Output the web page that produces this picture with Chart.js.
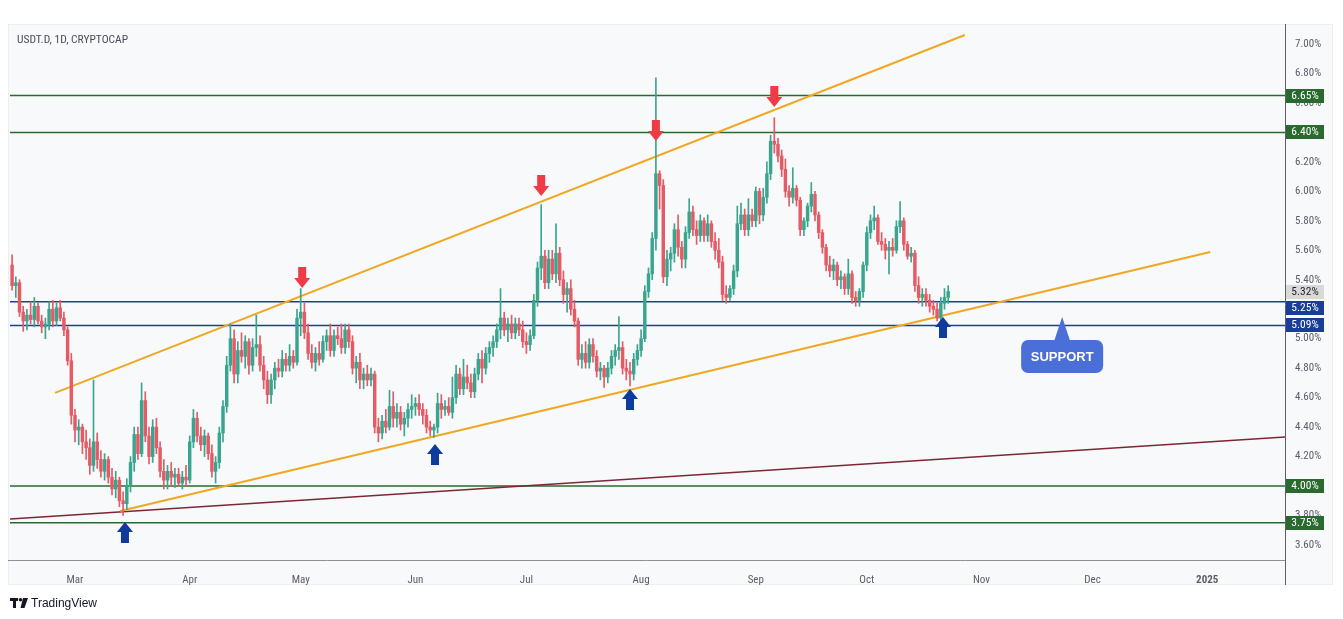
<!DOCTYPE html>
<html><head><meta charset="utf-8">
<script src="https://cdn.jsdelivr.net/npm/chart.js@4.4.1/dist/chart.umd.min.js"></script>
<style>html,body{margin:0;padding:0;background:#fff;}canvas{display:block}</style>
</head><body>
<canvas id="c" width="1343" height="619"></canvas>
<script>
// ---- DATA (daily candles, day 0 = 1 Mar 2024) ----
const firstDay = -17;
const opens = [
5.50,5.36,5.38,5.18,5.12,5.16,5.13,5.22,5.12,5.08,
5.10,5.20,5.12,5.21,5.14,5.06,4.85,4.48,4.38,4.40,
4.30,4.26,4.14,4.30,4.18,4.10,4.18,4.06,3.98,4.04,
3.90,3.88,4.00,4.16,4.35,4.22,4.58,4.34,4.20,4.40,
4.26,4.10,4.04,4.10,4.06,4.08,4.02,4.06,4.04,4.30,
4.46,4.34,4.28,4.34,4.22,4.10,4.16,4.36,4.54,4.82,
5.00,4.76,4.92,4.88,4.98,4.82,4.94,4.96,4.82,4.72,
4.62,4.72,4.80,4.78,4.86,4.82,4.88,4.84,5.14,5.18,
5.04,4.90,4.84,4.90,4.86,4.98,5.02,4.92,5.02,5.00,
4.94,5.06,4.98,4.80,4.84,4.72,4.76,4.72,4.76,4.40,
4.36,4.44,4.40,4.54,4.46,4.50,4.42,4.46,4.52,4.54,
4.56,4.52,4.48,4.40,4.38,4.40,4.56,4.52,4.54,4.50,
4.60,4.76,4.66,4.74,4.70,4.64,4.76,4.86,4.80,4.90,
4.94,4.98,5.06,5.14,5.06,5.10,5.04,5.10,5.06,4.98,
4.96,5.02,5.26,5.48,5.56,5.38,5.54,5.44,5.58,5.40,
5.30,5.34,5.20,5.12,4.86,4.90,4.84,4.96,4.88,4.78,
4.80,4.74,4.80,4.88,4.92,4.94,4.80,4.78,4.76,4.86,
4.92,5.00,5.32,5.44,5.68,6.12,6.04,5.42,5.54,5.58,
5.74,5.62,5.54,5.72,5.86,5.74,5.70,5.80,5.70,5.78,
5.66,5.60,5.52,5.30,5.28,5.34,5.46,5.78,5.84,5.74,
5.84,5.80,6.00,5.84,5.96,6.12,6.34,6.32,6.24,6.15,
6.00,5.96,6.02,5.94,5.74,5.80,5.90,5.98,5.84,5.72,
5.62,5.50,5.46,5.50,5.40,5.42,5.34,5.44,5.28,5.26,
5.32,5.50,5.72,5.80,5.82,5.66,5.64,5.60,5.62,5.60,
5.76,5.80,5.64,5.56,5.58,5.36,5.28,5.30,5.26,5.22,
5.20,5.14,5.24,5.28];
const highs = [
5.57,5.42,5.40,5.22,5.20,5.25,5.28,5.24,5.16,5.14,
5.25,5.26,5.24,5.26,5.18,5.08,4.90,4.52,4.45,4.42,
4.38,4.32,4.72,4.36,4.24,4.22,4.20,4.12,4.10,4.06,
3.96,4.05,4.20,4.40,4.40,4.70,4.64,4.40,4.45,4.46,
4.30,4.18,4.14,4.16,4.12,4.12,4.10,4.14,4.34,4.52,
4.50,4.40,4.38,4.36,4.28,4.20,4.40,4.58,4.88,5.10,
5.06,4.98,5.04,5.02,5.00,5.00,5.16,5.02,4.88,4.78,
4.76,4.84,4.86,4.92,4.90,4.96,4.92,5.20,5.34,5.24,
5.10,4.96,4.94,4.98,5.02,5.06,5.10,5.06,5.08,5.10,
5.10,5.10,5.02,4.88,4.90,4.80,4.82,4.80,4.78,4.46,
4.48,4.52,4.65,4.64,4.56,4.54,4.50,4.56,4.62,4.60,
4.62,4.56,4.52,4.44,4.42,4.63,4.62,4.58,4.60,4.74,
4.82,4.80,4.86,4.82,4.76,4.80,4.90,4.92,4.94,4.98,
5.02,5.10,5.34,5.18,5.14,5.16,5.14,5.14,5.12,5.04,
5.06,5.30,5.52,5.91,5.60,5.60,5.60,5.78,5.62,5.46,
5.38,5.40,5.26,5.14,4.96,4.98,5.00,5.00,4.92,4.84,
4.82,4.84,4.92,4.96,5.15,4.98,4.86,4.84,4.90,4.96,
5.06,5.36,5.48,5.72,6.77,6.14,6.08,5.60,5.62,5.78,
5.84,5.66,5.76,5.95,5.90,5.80,5.84,5.82,5.84,5.80,
5.72,5.68,5.56,5.36,5.36,5.50,5.90,5.92,5.88,5.95,
5.88,6.03,6.02,6.02,6.20,6.38,6.50,6.36,6.28,6.22,
6.04,6.16,6.04,5.96,5.82,5.92,6.06,6.00,5.86,5.74,
5.64,5.56,5.54,5.52,5.46,5.44,5.54,5.46,5.32,5.34,
5.52,5.76,5.84,5.90,5.84,5.72,5.68,5.66,5.68,5.80,
5.93,5.82,5.66,5.62,5.60,5.42,5.34,5.34,5.30,5.26,
5.24,5.28,5.34,5.36];
const lows = [
5.33,5.28,5.15,5.05,5.06,5.10,5.08,5.10,5.04,5.00,
5.06,5.08,5.09,5.12,5.02,4.82,4.42,4.30,4.28,4.22,
4.18,4.08,4.10,4.12,4.06,4.04,4.02,3.94,3.92,3.86,
3.80,3.84,3.96,4.10,4.18,4.20,4.30,4.15,4.16,4.22,
4.06,3.98,3.98,4.00,3.99,4.00,3.98,4.00,4.02,4.26,
4.30,4.24,4.20,4.18,4.06,4.02,4.12,4.30,4.50,4.78,
4.70,4.70,4.84,4.80,4.76,4.78,4.88,4.78,4.66,4.56,
4.56,4.66,4.74,4.74,4.78,4.78,4.80,4.82,5.02,5.00,
4.86,4.80,4.78,4.82,4.84,4.92,4.88,4.88,4.96,4.90,
4.90,4.94,4.76,4.70,4.66,4.66,4.68,4.68,4.36,4.30,
4.32,4.36,4.38,4.40,4.40,4.38,4.34,4.40,4.46,4.48,
4.48,4.42,4.36,4.34,4.33,4.36,4.46,4.48,4.48,4.46,
4.56,4.62,4.62,4.66,4.60,4.60,4.72,4.70,4.76,4.84,
4.88,4.94,5.00,5.02,4.98,5.00,5.00,5.02,4.94,4.90,
4.92,5.00,5.22,5.40,5.34,5.34,5.40,5.38,5.36,5.24,
5.18,5.16,5.08,4.82,4.80,4.80,4.80,4.84,4.74,4.72,
4.67,4.70,4.76,4.82,4.86,4.76,4.72,4.68,4.72,4.82,
4.88,4.98,5.28,5.40,5.60,5.88,5.38,5.36,5.46,5.52,
5.56,5.48,5.48,5.68,5.70,5.64,5.66,5.66,5.66,5.62,
5.54,5.48,5.26,5.24,5.26,5.30,5.42,5.74,5.70,5.70,
5.76,5.76,5.78,5.80,5.92,6.08,6.26,6.20,6.10,5.96,
5.90,5.92,5.90,5.70,5.70,5.76,5.86,5.80,5.68,5.58,
5.46,5.42,5.40,5.36,5.34,5.30,5.30,5.24,5.22,5.22,
5.28,5.46,5.68,5.74,5.64,5.60,5.54,5.44,5.56,5.58,
5.72,5.60,5.54,5.52,5.32,5.24,5.22,5.22,5.18,5.16,
5.12,5.09,5.20,5.24];
const closes = [
5.36,5.38,5.18,5.12,5.16,5.13,5.22,5.12,5.08,5.10,
5.20,5.12,5.21,5.14,5.06,4.85,4.48,4.38,4.40,4.30,
4.26,4.14,4.30,4.18,4.10,4.18,4.06,3.98,4.04,3.90,
3.88,4.00,4.16,4.35,4.22,4.58,4.34,4.20,4.40,4.26,
4.10,4.04,4.10,4.06,4.08,4.02,4.06,4.04,4.30,4.46,
4.34,4.28,4.34,4.22,4.10,4.16,4.36,4.54,4.82,5.00,
4.76,4.92,4.88,4.98,4.82,4.94,4.96,4.82,4.72,4.62,
4.72,4.80,4.78,4.86,4.82,4.88,4.84,5.14,5.18,5.04,
4.90,4.84,4.90,4.86,4.98,5.02,4.92,5.02,5.00,4.94,
5.06,4.98,4.80,4.84,4.72,4.76,4.72,4.76,4.40,4.36,
4.44,4.40,4.54,4.46,4.50,4.42,4.46,4.52,4.54,4.56,
4.52,4.48,4.40,4.38,4.40,4.56,4.52,4.54,4.50,4.60,
4.76,4.66,4.74,4.70,4.64,4.76,4.86,4.80,4.90,4.94,
4.98,5.06,5.14,5.06,5.10,5.04,5.10,5.06,4.98,4.96,
5.02,5.26,5.48,5.56,5.38,5.54,5.44,5.58,5.40,5.30,
5.34,5.20,5.12,4.86,4.90,4.84,4.96,4.88,4.78,4.80,
4.74,4.80,4.88,4.92,4.94,4.80,4.78,4.76,4.86,4.92,
5.00,5.32,5.44,5.68,6.12,6.04,5.42,5.54,5.58,5.74,
5.62,5.54,5.72,5.86,5.74,5.70,5.80,5.70,5.78,5.66,
5.60,5.52,5.30,5.28,5.34,5.46,5.78,5.84,5.74,5.84,
5.80,6.00,5.84,5.96,6.12,6.34,6.32,6.24,6.15,6.00,
5.96,6.02,5.94,5.74,5.80,5.90,5.98,5.84,5.72,5.62,
5.50,5.46,5.50,5.40,5.42,5.34,5.44,5.28,5.26,5.32,
5.50,5.72,5.80,5.82,5.66,5.64,5.60,5.62,5.60,5.76,
5.80,5.64,5.56,5.58,5.36,5.28,5.30,5.26,5.22,5.20,
5.14,5.24,5.28,5.32];

const monthTicks  = [0, 31, 61, 92, 122, 153, 184, 214, 245, 275, 306];
const monthLabels = ['Mar','Apr','May','Jun','Jul','Aug','Sep','Oct','Nov','Dec','2025'];
const yTickValues = [3.6,3.8,4.0,4.2,4.4,4.6,4.8,5.0,5.2,5.4,5.6,5.8,6.0,6.2,6.4,6.6,6.8,7.0];

const greenLevels = [6.65, 6.40, 4.00, 3.75];
const blueLevels  = [5.25, 5.09];

// trend lines: [startDay, startPrice, endDay, endPrice]
const upperChannel = [-5.4, 4.632, 240.5, 7.061];
const lowerChannel = [12.2, 3.831, 306.8, 5.588];
const longSupport  = [-17.57, 3.776, 327.03, 4.333];

// annotations: [day, price]
const sellArrows = [[61.4, 5.344], [126, 5.968], [157, 6.342], [189, 6.572]];
const buyArrows  = [[13.5, 3.756], [97.3, 4.285], [150, 4.659], [234.6, 5.147]];
const supportNote = [266.8, 5.147];

// ---- STYLE ----
const xMin = -17.57, xMax = 327.03, yMin = 3.498, yMax = 7.129;
const FONT = '"Liberation Sans Narrow","Roboto Condensed","Liberation Sans",sans-serif';
const UP = '#3aa58e', DOWN = '#e45a65';
const GREEN = '#2a6a2e', BLUE = '#1f3f90', ORANGE = '#f0a722', MAROON = '#7e2633';

const days = opens.map((_, i) => firstDay + i);
const candleColor = ctx => closes[ctx.dataIndex] >= opens[ctx.dataIndex] ? UP : DOWN;

function hLine(v, color) {
  return {type:'line', data:[{x:xMin,y:v},{x:xMax,y:v}], borderColor:color, borderWidth:1.5,
          pointRadius:0, order:3};
}
function tLine(a, color, w) {
  return {type:'line', data:[{x:a[0],y:a[1]},{x:a[2],y:a[3]}], borderColor:color, borderWidth:w,
          pointRadius:0, order:2};
}

const chrome = {
  id:'chrome',
  beforeDraw(chart){
    const c = chart.ctx;
    c.save();
    c.fillStyle = '#ffffff'; c.fillRect(0,0,chart.width,chart.height);
    c.fillStyle = '#f8f9fb'; c.fillRect(8,24,1325,561);
    c.strokeStyle = '#eceef2'; c.lineWidth = 1; c.strokeRect(8.5,24.5,1324,560);
    c.restore();
  },
  afterDraw(chart){
    const c = chart.ctx, xs = chart.scales.x, ys = chart.scales.y;
    c.save();
    // axis lines
    c.strokeStyle = '#8e9097'; c.lineWidth = 1;
    c.beginPath(); c.moveTo(8,560.5); c.lineTo(1285,560.5); c.stroke();
    c.strokeStyle = '#5d606b';
    c.beginPath(); c.moveTo(1285.5,24); c.lineTo(1285.5,585); c.stroke();

    // arrows
    function arrow(day, price, dir, color){
      const x = xs.getPixelForValue(day), y = ys.getPixelForValue(price);
      const hw = 8, sw = 4, hh = 10, total = 21;
      c.fillStyle = color; c.beginPath();
      if (dir < 0) {
        c.moveTo(x, y); c.lineTo(x-hw, y-hh); c.lineTo(x-sw, y-hh); c.lineTo(x-sw, y-total);
        c.lineTo(x+sw, y-total); c.lineTo(x+sw, y-hh); c.lineTo(x+hw, y-hh);
      } else {
        c.moveTo(x, y); c.lineTo(x-hw, y+hh); c.lineTo(x-sw, y+hh); c.lineTo(x-sw, y+total);
        c.lineTo(x+sw, y+total); c.lineTo(x+sw, y+hh); c.lineTo(x+hw, y+hh);
      }
      c.closePath(); c.fill();
    }
    sellArrows.forEach(a => arrow(a[0], a[1], -1, '#f03a46'));
    buyArrows.forEach(a => arrow(a[0], a[1], 1, '#0f3c9c'));

    // support callout
    {
      const ax = xs.getPixelForValue(supportNote[0]), ay = ys.getPixelForValue(supportNote[1]);
      c.fillStyle = '#4a6fd8';
      c.beginPath(); c.moveTo(ax, ay); c.lineTo(ax-8, ay+24); c.lineTo(ax+8, ay+24); c.closePath(); c.fill();
      c.beginPath(); c.roundRect(ax-41, ay+23, 82, 33, 7); c.fill();
      c.fillStyle = '#ffffff'; c.font = 'bold 13px "Liberation Sans", sans-serif';
      c.textAlign = 'center'; c.textBaseline = 'middle';
      c.fillText('SUPPORT', ax, ay+40);
    }

    // price labels on axis
    const labels = [];
    greenLevels.forEach(v => labels.push({v, bg:GREEN, fg:'#ffffff'}));
    blueLevels.forEach(v => labels.push({v, bg:'#1a3d98', fg:'#ffffff'}));
    labels.push({v: closes[closes.length-1], bg:'#d9d9dc', fg:'#1e1e24'});
    labels.forEach(l => l.y = ys.getPixelForValue(l.v));
    labels.sort((a,b) => a.y - b.y);
    for (let i = 1; i < labels.length; i++) {
      if (labels[i].y - labels[i-1].y < 16) labels[i].y = labels[i-1].y + 16;
    }
    c.font = '11.5px ' + FONT; c.textAlign = 'center'; c.textBaseline = 'middle';
    labels.forEach(l => {
      c.fillStyle = l.bg; c.fillRect(1286, Math.round(l.y) - 7, 38, 14);
      c.fillStyle = l.fg; c.fillText(l.v.toFixed(2) + '%', 1305, Math.round(l.y) + 0.5);
    });

    // title
    c.fillStyle = '#4a4d57'; c.font = '11.5px ' + FONT; c.textAlign = 'left'; c.textBaseline = 'middle';
    c.fillText('USDT.D, 1D, CRYPTOCAP', 17, 40);

    // TradingView logo
    c.fillStyle = '#131722';
    c.fillRect(10, 598, 8, 3); c.fillRect(13, 598, 3, 10);
    c.beginPath(); c.arc(20.5, 599.8, 1.8, 0, Math.PI*2); c.fill();
    c.beginPath(); c.moveTo(23,598); c.lineTo(28,598); c.lineTo(24.5,608); c.lineTo(20.5,608); c.closePath(); c.fill();
    c.font = '12px "Liberation Sans", sans-serif'; c.textBaseline = 'middle';
    c.fillText('TradingView', 31, 603.5);
    c.restore();
  }
};

new Chart(document.getElementById('c'), {
  type:'bar',
  data:{
    datasets:[
      {type:'bar', data: days.map((d,i)=>({x:d, y:[lows[i], highs[i]]})), backgroundColor:candleColor,
       barThickness:1, grouped:false, order:1},
      {type:'bar', data: days.map((d,i)=>({x:d, y:[opens[i], closes[i]]})), backgroundColor:candleColor,
       barThickness:2.8, minBarLength:1, grouped:false, order:0},
      ...greenLevels.map(v => hLine(v, GREEN)),
      ...blueLevels.map(v => hLine(v, BLUE)),
      tLine(upperChannel, ORANGE, 2),
      tLine(lowerChannel, ORANGE, 2),
      tLine(longSupport, MAROON, 1.6)
    ]
  },
  options:{
    responsive:false, animation:false, events:[],
    layout:{padding:{left:10, right:13, top:25, bottom:34}},
    plugins:{legend:{display:false}, tooltip:{enabled:false}},
    scales:{
      x:{type:'linear', min:xMin, max:xMax, offset:false,
         grid:{display:false}, border:{display:false},
         afterBuildTicks: s => { s.ticks = monthTicks.map(v => ({value:v})); },
         afterFit: s => { s.height = 25; },
         ticks:{autoSkip:false, maxRotation:0, padding:6, color:'#5a5d68',
                font: ctx => ({family:FONT, size:11, weight:(ctx.tick && ctx.tick.value === 306) ? 'bold' : 'normal'}),
                callback:(v,i) => monthLabels[i]}},
      y:{type:'linear', position:'right', min:yMin, max:yMax,
         grid:{display:false}, border:{display:false},
         afterBuildTicks: s => { s.ticks = yTickValues.map(v => ({value:v})); },
         afterFit: s => { s.width = 45; },
         ticks:{padding:2, color:'#5a5d68', font:{family:FONT, size:11},
                callback: v => v.toFixed(2) + '%'}}
    }
  },
  plugins:[chrome]
});
</script>
</body></html>
